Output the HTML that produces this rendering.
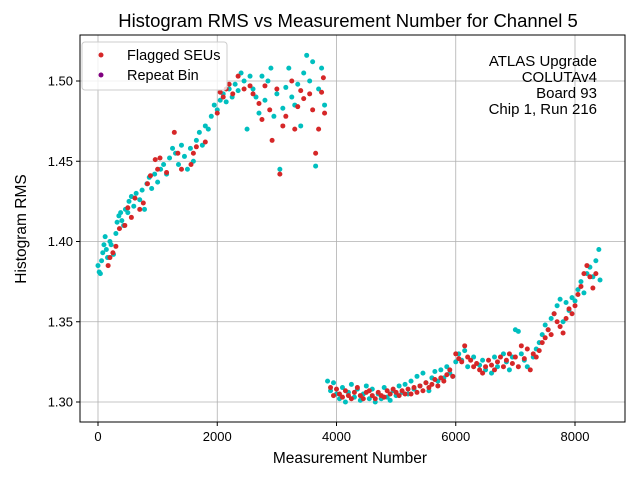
<!DOCTYPE html>
<html><head><meta charset="utf-8"><style>body{margin:0;background:#fff}svg{font-family:"Liberation Sans","DejaVu Sans",sans-serif}</style></head>
<body>
<svg id="chart" width="640" height="480">
<rect x="0" y="0" width="640" height="480" fill="#fff"/>
<text x="348" y="27" font-size="18.5" text-anchor="middle">Histogram RMS vs Measurement Number for Channel 5</text>
<g id="grid"></g>
<g id="marks"></g>
<rect x="80" y="35" width="545" height="387" fill="none" stroke="#000" stroke-width="1"/>
<g id="ticks"></g>
<text x="350" y="463" font-size="15.5" text-anchor="middle">Measurement Number</text>
<text x="26" y="229" font-size="15.5" text-anchor="middle" transform="rotate(-90 26 229)">Histogram RMS</text>
<g>
<rect x="82" y="42" width="145" height="48" rx="3" fill="#fff" fill-opacity="0.8" stroke="#ccc"/>
<circle cx="101" cy="55" r="2.5" fill="#d62728"/>
<text x="127" y="60" font-size="14.5">Flagged SEUs</text>
<circle cx="101" cy="75" r="2.5" fill="#800080"/>
<text x="127" y="80" font-size="14.5">Repeat Bin</text>
</g>
<g font-size="15" text-anchor="end">
<text x="597" y="66">ATLAS Upgrade</text>
<text x="597" y="82">COLUTAv4</text>
<text x="597" y="98">Board 93</text>
<text x="597" y="114">Chip 1, Run 216</text>
</g>
</svg>
<script>
const xTicks=[0,2000,4000,6000,8000];
const yTicks=[1.30,1.35,1.40,1.45,1.50];
const yTickLabels=["1.30","1.35","1.40","1.45","1.50"];
const cyanPoints=[[0,1.385],[20,1.381],[40,1.380],[60,1.388],[80,1.393],[100,1.398],[120,1.403],[140,1.395],[160,1.390],[200,1.400],[220,1.398],[260,1.392],[300,1.405],[320,1.412],[350,1.416],[380,1.418],[400,1.413],[430,1.410],[460,1.420],[500,1.418],[520,1.425],[560,1.428],[600,1.422],[640,1.430],[700,1.426],[740,1.432],[780,1.420],[820,1.436],[860,1.440],[900,1.433],[950,1.442],[1000,1.437],[1050,1.445],[1100,1.448],[1150,1.442],[1200,1.452],[1250,1.458],[1300,1.455],[1350,1.448],[1400,1.460],[1450,1.453],[1500,1.445],[1550,1.458],[1600,1.450],[1650,1.463],[1700,1.468],[1750,1.460],[1800,1.472],[1850,1.470],[1900,1.478],[1950,1.485],[2000,1.482],[2050,1.488],[2100,1.492],[2150,1.487],[2200,1.495],[2250,1.490],[2300,1.498],[2350,1.494],[2400,1.505],[2450,1.500],[2500,1.470],[2550,1.503],[2600,1.495],[2650,1.490],[2700,1.480],[2750,1.503],[2800,1.488],[2850,1.500],[2900,1.508],[2950,1.478],[3000,1.492],[3050,1.445],[3100,1.483],[3150,1.496],[3200,1.508],[3250,1.490],[3300,1.485],[3350,1.498],[3400,1.472],[3450,1.505],[3500,1.516],[3550,1.500],[3600,1.512],[3650,1.447],[3700,1.495],[3750,1.508],[3800,1.485],
[3850,1.313],[3900,1.307],[3950,1.312],[4000,1.305],[4050,1.302],[4100,1.309],[4150,1.300],[4200,1.306],[4250,1.311],[4300,1.303],[4350,1.308],[4400,1.301],[4450,1.305],[4500,1.310],[4550,1.302],[4600,1.308],[4650,1.300],[4700,1.305],[4750,1.302],[4800,1.309],[4850,1.303],[4900,1.301],[4950,1.307],[5000,1.304],[5050,1.310],[5100,1.306],[5150,1.311],[5200,1.305],[5250,1.313],[5300,1.308],[5350,1.316],[5400,1.310],[5450,1.318],[5500,1.312],[5550,1.307],[5600,1.315],[5650,1.319],[5700,1.313],[5750,1.320],[5800,1.315],[5850,1.322],[5900,1.318],[5950,1.316],[6000,1.325],[6050,1.330],[6100,1.326],[6150,1.332],[6200,1.322],[6300,1.328],[6400,1.323],[6450,1.326],[6500,1.320],[6600,1.318],[6650,1.328],[6700,1.322],[6800,1.330],[6850,1.325],[6900,1.320],[6950,1.328],[7000,1.345],[7050,1.344],[7100,1.330],[7150,1.326],[7200,1.322],[7300,1.328],[7350,1.333],[7400,1.337],[7450,1.342],[7500,1.348],[7550,1.345],[7600,1.352],[7650,1.355],[7700,1.360],[7750,1.364],[7800,1.350],[7850,1.362],[7900,1.357],[7950,1.365],[8000,1.363],[8050,1.370],[8100,1.375],[8150,1.368],[8200,1.380],[8250,1.384],[8300,1.378],[8350,1.388],[8400,1.395],[8420,1.376]];
const redPoints=[[170,1.385],[200,1.390],[250,1.393],[300,1.397],[360,1.408],[450,1.410],[500,1.421],[560,1.415],[620,1.427],[700,1.420],[760,1.424],[830,1.436],[880,1.441],[960,1.451],[1000,1.445],[1040,1.452],[1150,1.443],[1280,1.468],[1340,1.455],[1400,1.445],[1560,1.448],[1600,1.455],[1650,1.459],[1800,1.462],[2000,1.480],[2050,1.493],[2100,1.490],[2150,1.495],[2200,1.498],[2260,1.492],[2350,1.503],[2450,1.495],[2550,1.497],[2600,1.492],[2700,1.486],[2750,1.476],[2800,1.497],[2880,1.482],[2920,1.463],[3000,1.495],[3050,1.442],[3100,1.472],[3150,1.478],[3250,1.500],[3300,1.470],[3350,1.484],[3400,1.494],[3450,1.489],[3550,1.492],[3600,1.482],[3650,1.455],[3700,1.470],[3750,1.493],[3800,1.480],[3780,1.502],
[3900,1.309],[3950,1.304],[4000,1.308],[4050,1.305],[4100,1.303],[4150,1.307],[4200,1.304],[4250,1.302],[4300,1.306],[4350,1.309],[4400,1.304],[4450,1.302],[4500,1.306],[4550,1.307],[4600,1.304],[4650,1.302],[4700,1.306],[4750,1.304],[4800,1.303],[4850,1.307],[4900,1.305],[4950,1.308],[5000,1.306],[5050,1.304],[5100,1.307],[5150,1.305],[5200,1.308],[5250,1.305],[5300,1.309],[5350,1.306],[5400,1.310],[5450,1.307],[5500,1.312],[5550,1.309],[5600,1.311],[5650,1.314],[5700,1.310],[5750,1.315],[5800,1.313],[5850,1.317],[5900,1.320],[5950,1.316],[6000,1.330],[6050,1.327],[6100,1.325],[6150,1.335],[6200,1.328],[6250,1.326],[6300,1.322],[6350,1.324],[6400,1.320],[6450,1.318],[6500,1.322],[6550,1.326],[6600,1.323],[6650,1.320],[6700,1.325],[6750,1.328],[6800,1.322],[6850,1.326],[6900,1.330],[6950,1.324],[7000,1.328],[7050,1.322],[7100,1.335],[7150,1.327],[7200,1.333],[7250,1.320],[7300,1.330],[7350,1.328],[7400,1.332],[7450,1.337],[7500,1.340],[7550,1.345],[7600,1.342],[7650,1.355],[7700,1.350],[7750,1.347],[7800,1.343],[7850,1.352],[7900,1.358],[7950,1.355],[8000,1.360],[8050,1.367],[8100,1.372],[8150,1.380],[8200,1.385],[8250,1.378],[8300,1.371],[8350,1.380]];

const NS='http://www.w3.org/2000/svg';
function xs(v){return 98+v*119.25/2000;}
function ys(v){return 402-(v-1.30)*1605;}
const grid=document.getElementById('grid'),ticks=document.getElementById('ticks'),marks=document.getElementById('marks');
function mk(tag,attrs,parent){const e=document.createElementNS(NS,tag);for(const k in attrs)e.setAttribute(k,attrs[k]);parent.appendChild(e);return e;}
xTicks.forEach(t=>{const x=xs(t);
 const g=mk('line',{x1:x,x2:x,y1:35,y2:422,stroke:'#b0b0b0','stroke-width':0.8},grid);
 
 
 const tk=mk('line',{x1:x,x2:x,y1:422,y2:426,stroke:'#000'},ticks);
 
 
 const tx=mk('text',{x:x,y:441,'font-size':13,'text-anchor':'middle'},ticks);tx.textContent=String(t);
 
 
});
yTicks.forEach((t,i)=>{const y=ys(t);
 const g=mk('line',{x1:80,x2:625,y1:y,y2:y,stroke:'#b0b0b0','stroke-width':0.8},grid);
 
 
 const tk=mk('line',{x1:76,x2:80,y1:y,y2:y,stroke:'#000'},ticks);
 
 
 const tx=mk('text',{x:73,y:y+4.5,'font-size':13,'text-anchor':'end'},ticks);tx.textContent=yTickLabels[i];
 
 
});
cyanPoints.forEach(p=>{const c=mk('circle',{cx:xs(p[0]),cy:ys(p[1]),r:2.5,fill:'#00bfbf'},marks);
 
 });
redPoints.forEach(p=>{const c=mk('circle',{cx:xs(p[0]),cy:ys(p[1]),r:2.5,fill:'#d62728'},marks);
 
 });
</script>
</body></html>
